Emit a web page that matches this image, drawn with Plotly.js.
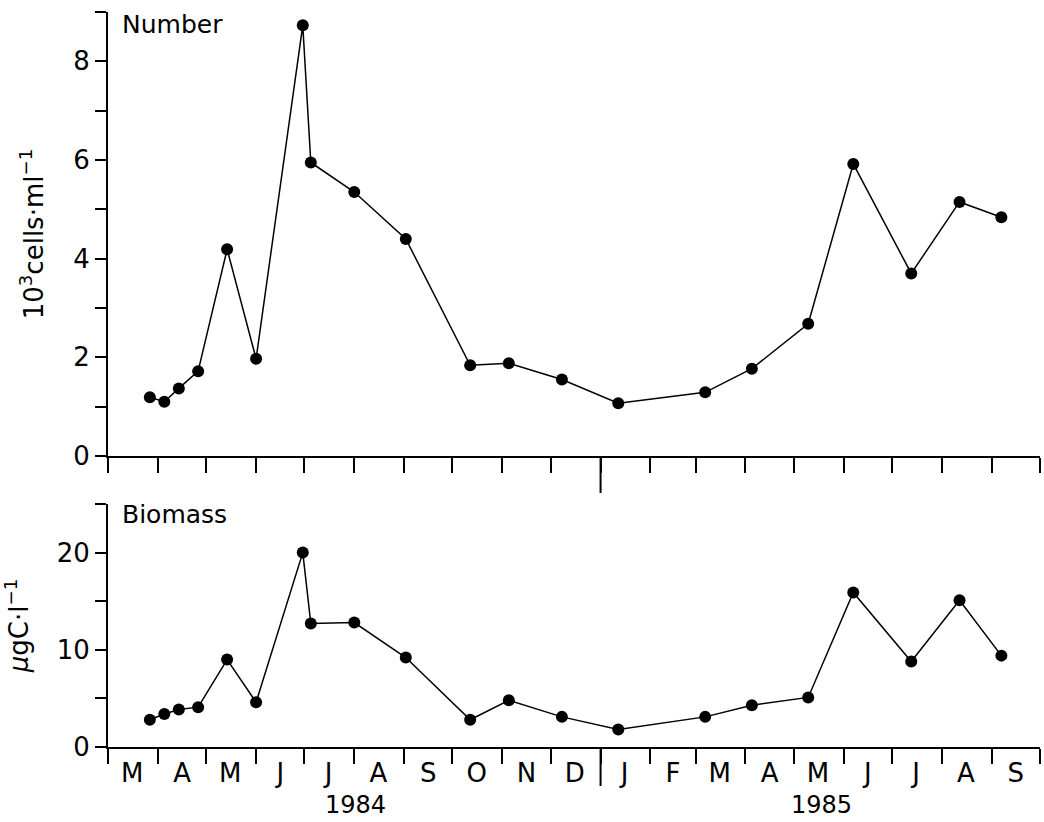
<!DOCTYPE html>
<html>
<head>
<meta charset="utf-8">
<script src="https://cdn.plot.ly/plotly-3.0.1.min.js"></script>
<style>
html, body { margin: 0; padding: 0; background: #ffffff; }
#chart { width: 1044px; height: 822px; }
</style>
</head>
<body>
<div id="chart"></div>
<script>
// Sampling dates
const sampleDates = ['1984-03-27','1984-04-05','1984-04-14','1984-04-26','1984-05-14','1984-06-01',
  '1984-06-30','1984-07-05','1984-08-01','1984-09-02','1984-10-12','1984-11-05','1984-12-08',
  '1985-01-12','1985-03-07','1985-04-05','1985-05-10','1985-06-07','1985-07-13','1985-08-12','1985-09-07'];

// Number, 10^3 cells per ml
const cellNumber = [1.19, 1.10, 1.37, 1.72, 4.19, 1.97, 8.73, 5.95, 5.35, 4.40, 1.84, 1.88, 1.55,
  1.07, 1.29, 1.77, 2.68, 5.92, 3.70, 5.15, 4.84];

// Biomass, ugC per l
const biomass = [2.8, 3.4, 3.85, 4.1, 9.0, 4.6, 20.0, 12.7, 12.8, 9.2, 2.8, 4.8, 3.1,
  1.8, 3.1, 4.3, 5.1, 15.9, 8.8, 15.1, 9.4];

// Month boundaries (tick marks) and month label positions
const monthStarts = ['1984-03-01','1984-04-01','1984-05-01','1984-06-01','1984-07-01','1984-08-01',
  '1984-09-01','1984-10-01','1984-11-01','1984-12-01','1985-01-01','1985-02-01','1985-03-01',
  '1985-04-01','1985-05-01','1985-06-01','1985-07-01','1985-08-01','1985-09-01','1985-10-01'];
const monthMids = ['1984-03-16','1984-04-16','1984-05-16','1984-06-16','1984-07-16','1984-08-16',
  '1984-09-16','1984-10-16','1984-11-16','1984-12-16','1985-01-16','1985-02-15','1985-03-16',
  '1985-04-16','1985-05-16','1985-06-16','1985-07-16','1985-08-16','1985-09-16'];
const monthLabels = ['M','A','M','J','J','A','S','O','N','D','J','F','M','A','M','J','J','A','S'];
const yearLabels = ['1984', '1985'];
const yearPositions = ['1984-08-02', '1985-05-18'];
const yearBoundary = '1985-01-01';

const numberMajorTicks = [0, 2, 4, 6, 8];
const numberMinorTicks = [1, 3, 5, 7, 9];
const biomassMajorTicks = [0, 10, 20];
const biomassMinorTicks = [5, 15, 25];

const FONT = 'DejaVu Sans, Liberation Sans, sans-serif';
const xRange = [monthStarts[0], monthStarts[monthStarts.length - 1]];

const markerStyle = { color: '#000', size: 12, symbol: 'circle' };
const lineStyle = { color: '#000', width: 1.5 };

const traces = [
  { x: sampleDates, y: cellNumber, xaxis: 'x', yaxis: 'y', type: 'scatter', mode: 'lines+markers',
    line: lineStyle, marker: markerStyle, cliponaxis: false, showlegend: false, name: 'Number' },
  { x: sampleDates, y: biomass, xaxis: 'x2', yaxis: 'y2', type: 'scatter', mode: 'lines+markers',
    line: lineStyle, marker: markerStyle, cliponaxis: false, showlegend: false, name: 'Biomass' },
  { x: [], y: [], xaxis: 'x3', yaxis: 'y2', type: 'scatter', mode: 'markers', showlegend: false, hoverinfo: 'skip' }
];

const tickX = {
  type: 'date', range: xRange, tickmode: 'array', tickvals: monthStarts, showticklabels: false,
  ticks: 'outside', ticklen: 15, tickwidth: 2, tickcolor: '#000',
  showline: true, linewidth: 2, linecolor: '#000', showgrid: false, zeroline: false, fixedrange: true
};
const yBase = {
  tickmode: 'array', ticks: 'outside', ticklen: 11, tickwidth: 2, tickcolor: '#000',
  showline: true, linewidth: 2, linecolor: '#000', showgrid: false, zeroline: false,
  tickfont: { family: FONT, size: 26, color: '#000' }, fixedrange: true
};
const minorBase = { ticks: 'outside', ticklen: 11, tickwidth: 2, tickcolor: '#000', showgrid: false };

const H = 735; // plot height in px
const layout = {
  width: 1044, height: 822,
  margin: { l: 108, r: 4, t: 12, b: 75 },
  paper_bgcolor: '#fff', plot_bgcolor: '#fff',
  font: { family: FONT, color: '#000' },
  showlegend: false,
  xaxis: Object.assign({}, tickX, { anchor: 'y', domain: [0, 1] }),
  xaxis2: Object.assign({}, tickX, { anchor: 'y2', domain: [0, 1] }),
  xaxis3: {
    type: 'date', range: xRange, overlaying: 'x2', anchor: 'y2', side: 'bottom',
    tickmode: 'array', tickvals: monthMids, ticktext: monthLabels,
    ticks: 'outside', ticklen: 3, tickcolor: 'rgba(0,0,0,0)',
    showline: false, showgrid: false, zeroline: false, fixedrange: true,
    tickfont: { family: FONT, size: 26, color: '#000' }
  },
  yaxis: Object.assign({}, yBase, {
    anchor: 'x', domain: [(747 - 456) / H, 1], range: [0, 9],
    tickvals: numberMajorTicks, ticktext: numberMajorTicks.map(String),
    minor: Object.assign({ tickmode: 'array', tickvals: numberMinorTicks }, minorBase),
    title: { text: '10<sup>3</sup>cells·ml<sup>−1</sup>', font: { family: FONT, size: 26, color: '#000' }, standoff: 22 }
  }),
  yaxis2: Object.assign({}, yBase, {
    anchor: 'x2', domain: [0, (747 - 504) / H], range: [0, 25],
    tickvals: biomassMajorTicks, ticktext: biomassMajorTicks.map(String),
    minor: Object.assign({ tickmode: 'array', tickvals: biomassMinorTicks }, minorBase),
    title: { text: '<i>μ</i>gC·l<sup>−1</sup>', font: { family: FONT, size: 26, color: '#000' }, standoff: 22 }
  }),
  shapes: [
    { type: 'line', xref: 'x', yref: 'paper', x0: yearBoundary, x1: yearBoundary,
      y0: (747 - 456) / H, y1: (747 - 493) / H, line: { color: '#000', width: 2 } },
    { type: 'line', xref: 'x2', yref: 'paper', x0: yearBoundary, x1: yearBoundary,
      y0: 0, y1: (747 - 786) / H, line: { color: '#000', width: 2 } }
  ],
  annotations: [
    { text: 'Number', xref: 'paper', yref: 'paper', x: 12 / 932, y: (747 - 8) / H,
      xanchor: 'left', yanchor: 'top', showarrow: false, font: { family: FONT, size: 25, color: '#000' } },
    { text: 'Biomass', xref: 'paper', yref: 'paper', x: 12 / 932, y: (747 - 498) / H,
      xanchor: 'left', yanchor: 'top', showarrow: false, font: { family: FONT, size: 25, color: '#000' } }
  ].concat(yearLabels.map((t, i) => ({
    text: t, xref: 'x2', yref: 'paper', x: yearPositions[i], y: (747 - 805) / H,
    xanchor: 'center', yanchor: 'middle', showarrow: false, borderpad: 0,
    font: { family: FONT, size: 24, color: '#000' }
  })))
};

Plotly.newPlot('chart', traces, layout, { displayModeBar: false, staticPlot: true });
</script>
</body>
</html>
